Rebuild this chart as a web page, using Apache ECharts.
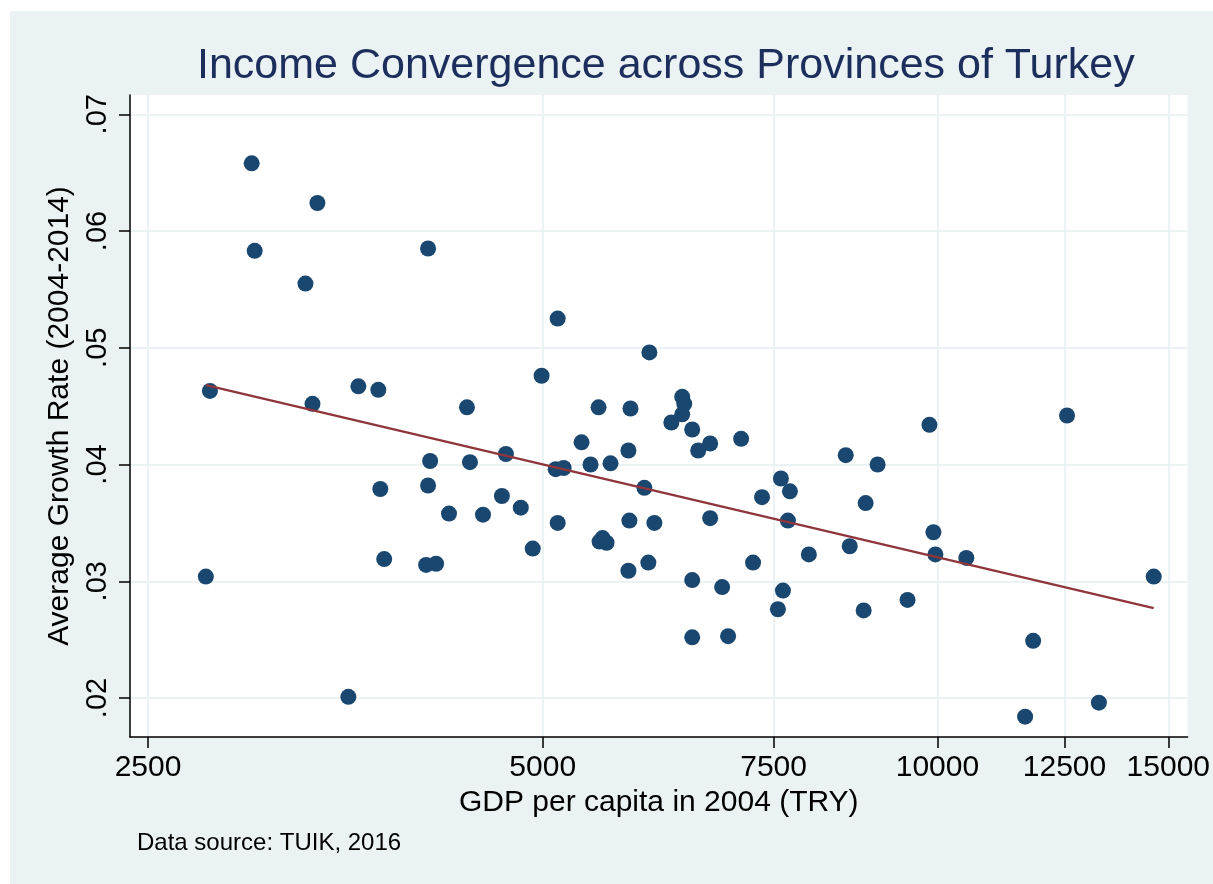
<!DOCTYPE html>
<html>
<head>
<meta charset="utf-8">
<script src="https://cdn.jsdelivr.net/npm/echarts@6/dist/echarts.min.js"></script>
<style>
  html, body { margin: 0; padding: 0; background: #ffffff; }
  #chart { width: 1213px; height: 884px; }
</style>
</head>
<body>
<div id="chart"></div>
<script>
// GDP per capita in 2004 (TRY), one entry per province
const gdp2004 = [
  2999, 3015, 3366, 3296, 2787, 2767, 3337, 3617, 3746, 3759,
  3785, 3554, 4088, 4103, 4088, 4074, 4146, 4377, 4400, 4241,
  4502, 4654, 4687, 4811, 4913, 4990, 5133, 5115, 5187, 5133,
  5353, 5438, 5515, 5525, 5554, 5593, 5632, 5812, 5833, 5822,
  5812, 5977, 6019, 6030, 6083, 6267, 6388, 6411, 6388, 6501,
  6570, 6501, 6501, 6709, 6709, 6852, 6924, 7084, 7234, 7349,
  7557, 7597, 7624, 7718, 7691, 7979, 8513, 8573, 8785, 8816,
  9003, 9489, 9861, 9930, 9965, 10521, 11665, 11831, 12556, 13279,
  14621
];
// average growth rate 2004-2014, same order
const growthRate = [
  0.0658, 0.0583, 0.0624, 0.0555, 0.0463, 0.0304, 0.0452, 0.0467, 0.0464, 0.0379,
  0.0319, 0.0201, 0.0585, 0.0403, 0.0382, 0.0314, 0.0315, 0.0449, 0.0402, 0.0358,
  0.0357, 0.0373, 0.0409, 0.0363, 0.0328, 0.0476, 0.0525, 0.0396, 0.0397, 0.0350,
  0.0419, 0.0400, 0.0449, 0.0334, 0.0337, 0.0333, 0.0401, 0.0412, 0.0448, 0.0352,
  0.0309, 0.0380, 0.0316, 0.0496, 0.0350, 0.0436, 0.0458, 0.0452, 0.0443, 0.0430,
  0.0412, 0.0301, 0.0252, 0.0418, 0.0354, 0.0295, 0.0253, 0.0422, 0.0316, 0.0372,
  0.0276, 0.0388, 0.0292, 0.0377, 0.0352, 0.0323, 0.0408, 0.0330, 0.0275, 0.0367,
  0.0400, 0.0284, 0.0434, 0.0342, 0.0323, 0.0320, 0.0184, 0.0249, 0.0442, 0.0196,
  0.0304
];
// fitted line, read at both ends of the data
const fitGdp = [2767, 14621];
const fitGrowth = [0.0468, 0.0277];

const xTicks = [2500, 5000, 7500, 10000, 12500, 15000];
const yTicks = [0.02, 0.03, 0.04, 0.05, 0.06, 0.07];

const FONT = "'Liberation Sans', Arial, sans-serif";

const chart = echarts.init(document.getElementById("chart"));

const option = {
  backgroundColor: "#ffffff",
  animation: false,
  graphic: [
    {
      type: "rect",
      silent: true,
      z: -100,
      shape: { x: 10, y: 11, width: 1203, height: 873 },
      style: { fill: "#eaf2f3" }
    }
  ],
  title: [
    {
      text: "Income Convergence across Provinces of Turkey",
      left: 192,
      top: 40,
      textStyle: { fontFamily: FONT, fontSize: 43, fontWeight: "normal", color: "#1c2f5c" }
    },
    {
      text: "Data source: TUIK, 2016",
      left: 132,
      top: 826,
      textStyle: { fontFamily: FONT, fontSize: 24, fontWeight: "normal", color: "#000000" }
    }
  ],
  grid: {
    left: 130,
    top: 95,
    right: 22,
    bottom: 147,
    show: true,
    backgroundColor: "#ffffff",
    borderWidth: 0
  },
  xAxis: {
    type: "log",
    logBase: 10,
    min: 2422,
    max: 15516,
    name: "GDP per capita in 2004 (TRY)",
    nameLocation: "middle",
    nameGap: 50,
    nameTextStyle: { fontFamily: FONT, fontSize: 30, color: "#000000" },
    axisLine: { show: true, onZero: false, lineStyle: { color: "#000000", width: 1.5 } },
    axisTick: { show: true, length: 11, customValues: xTicks, lineStyle: { color: "#000000", width: 1.5 } },
    axisLabel: {
      customValues: xTicks,
      margin: 16,
      fontFamily: FONT,
      fontSize: 30,
      color: "#000000",
      formatter: (v) => String(Math.round(v))
    },
    splitLine: { show: true, lineStyle: { color: "#eaf2f3", width: 2 } }
  },
  yAxis: {
    type: "value",
    min: 0.01666,
    max: 0.07165,
    name: "Average Growth Rate (2004-2014)",
    nameLocation: "middle",
    nameGap: 55,
    nameTextStyle: { fontFamily: FONT, fontSize: 30, color: "#000000" },
    axisLine: { show: true, onZero: false, lineStyle: { color: "#000000", width: 1.5 } },
    axisTick: { show: true, length: 11, customValues: yTicks, lineStyle: { color: "#000000", width: 1.5 } },
    axisLabel: {
      customValues: yTicks,
      rotate: 90,
      margin: 18,
      fontFamily: FONT,
      fontSize: 29,
      color: "#000000",
      formatter: (v) => v.toFixed(2).replace(/^0/, "")
    },
    splitLine: { show: true, lineStyle: { color: "#eaf2f3", width: 2 } }
  },
  series: [
    {
      type: "scatter",
      symbol: "circle",
      symbolSize: 16,
      itemStyle: { color: "#1a476f", opacity: 1 },
      data: gdp2004.map((g, i) => [g, growthRate[i]]),
      z: 2
    },
    {
      type: "line",
      symbol: "none",
      lineStyle: { color: "#90353b", width: 2.5 },
      data: fitGdp.map((g, i) => [g, fitGrowth[i]]),
      z: 3
    }
  ]
};

chart.setOption(option);
</script>
</body>
</html>
